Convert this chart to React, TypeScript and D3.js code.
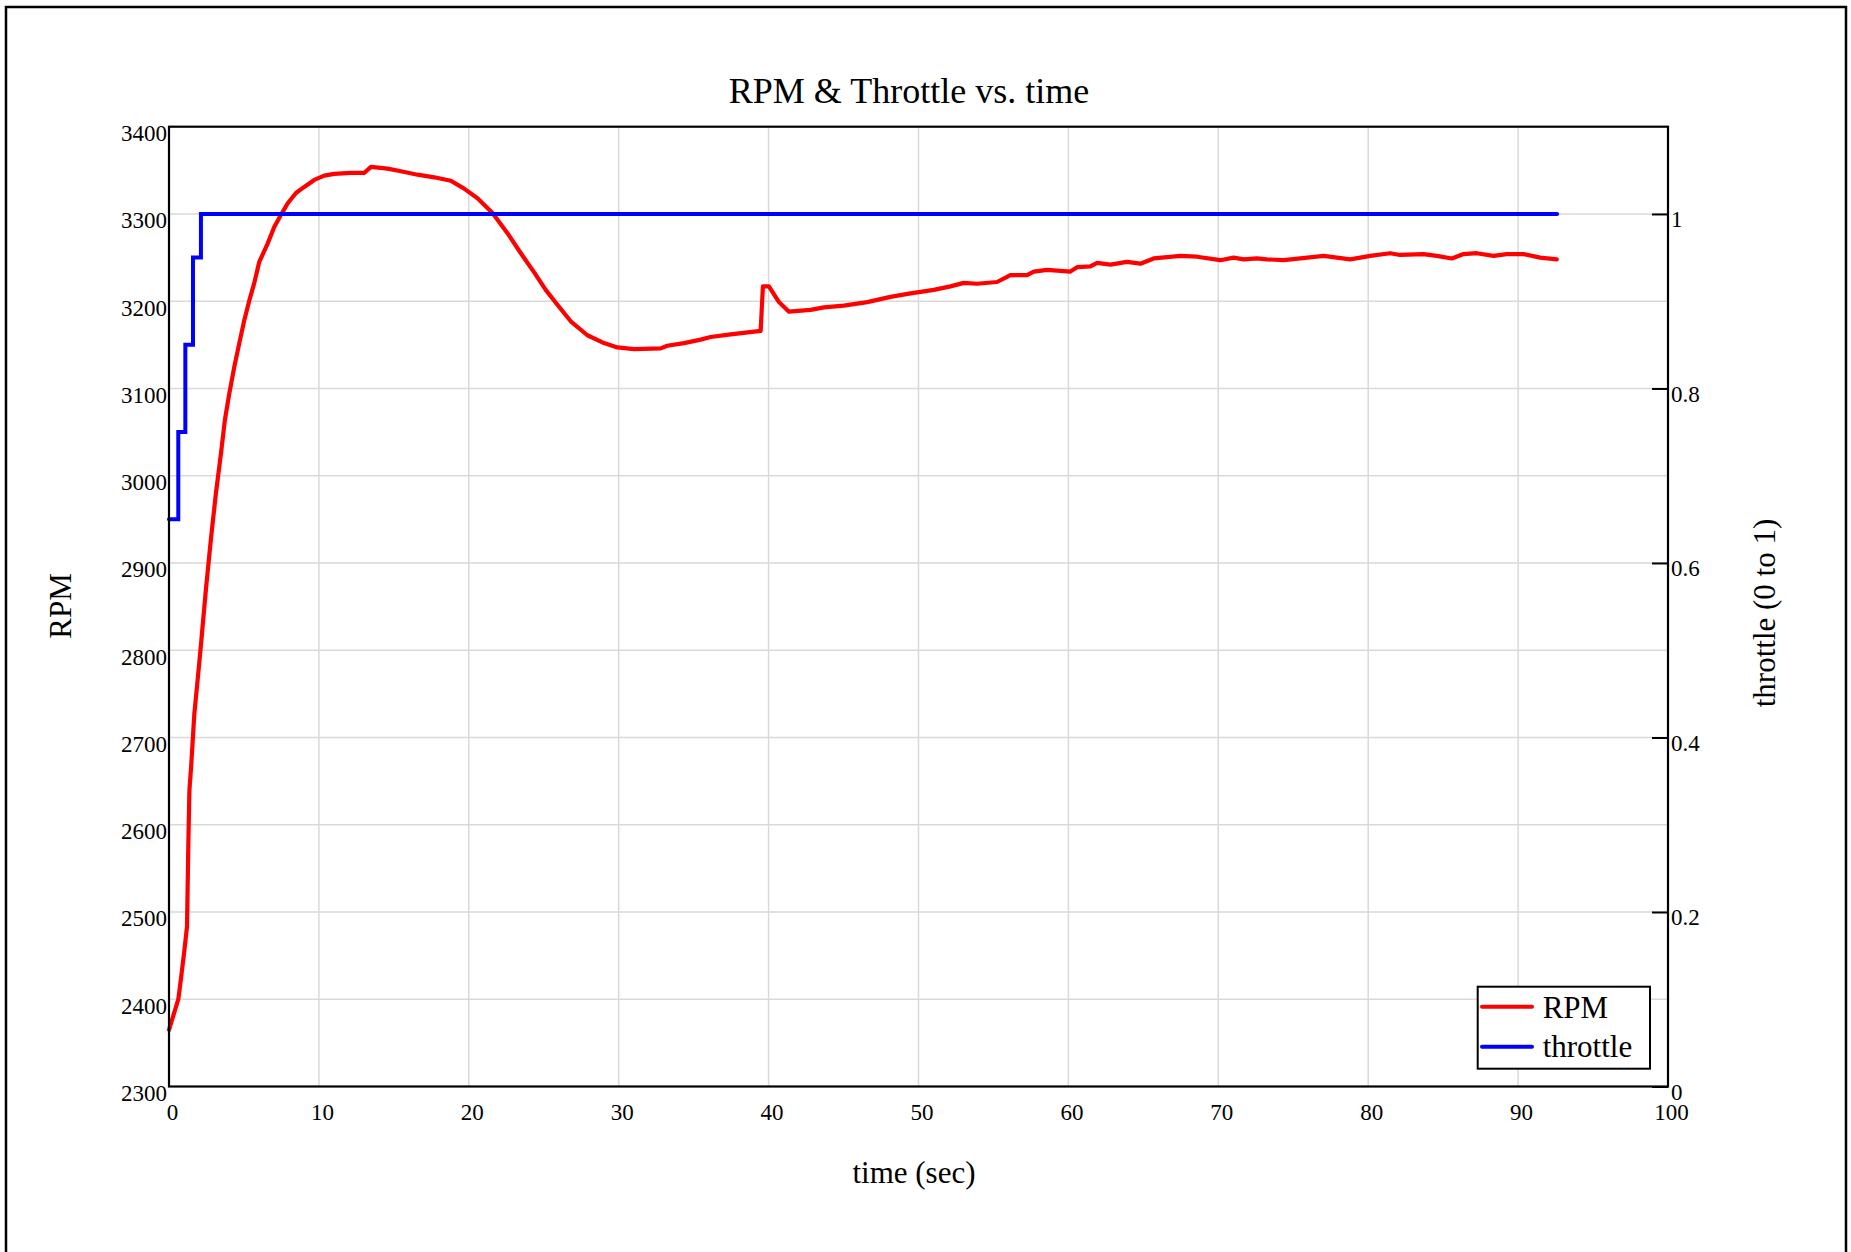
import React, { useRef, useEffect } from 'react';
import * as d3 from 'd3';

// RPM samples (time in sec, rpm)
const rpmTime = [
  0, 0.62, 0.8, 1.02, 1.2, 1.29, 1.36, 1.47, 1.69, 1.91, 2.13, 2.47, 2.8, 3.13, 3.47, 3.73,
  4.02, 4.36, 4.69, 5.02, 5.36, 5.69, 6.02, 6.58, 7.02, 7.47, 7.91, 8.47, 9.02, 9.69, 10.36,
  11.02, 12.13, 13.02, 13.47, 14.58, 15.47, 16.58, 17.69, 18.8, 19.69, 20.58, 21.58, 22.58,
  23.47, 24.36, 25.13, 25.91, 26.8, 27.91, 29.02, 29.91, 31.02, 32.8, 33.24, 34.36, 35.47,
  36.13, 37.47, 39.47, 39.62, 40.02, 40.69, 41.36, 42.8, 43.69, 45.02, 46.58, 48.13, 49.47,
  51.02, 52.13, 53.02, 53.91, 55.24, 56.13, 57.24, 57.69, 58.58, 60.13, 60.58, 61.47, 61.91,
  62.8, 63.91, 64.8, 65.69, 67.47, 68.58, 70.13, 71.02, 71.69, 72.58, 73.24, 74.36, 75.47,
  77.02, 77.91, 78.8, 80.13, 81.47, 82.13, 83.69, 84.58, 85.58, 86.36, 87.24, 88.36, 89.24,
  90.36, 91.47, 92.58,
];
const rpmValue = [
  2365, 2400, 2424, 2455, 2483, 2577, 2639, 2665, 2727, 2766, 2806, 2871, 2928, 2980, 3026, 3064,
  3094, 3125, 3152, 3178, 3201, 3221, 3245, 3266, 3285, 3299, 3312, 3324, 3331, 3339, 3344,
  3346, 3347, 3347, 3354, 3352, 3349, 3345, 3342, 3338, 3329, 3318, 3301, 3278,
  3255, 3233, 3213, 3196, 3177, 3161, 3152, 3147, 3145, 3146, 3149, 3152, 3156,
  3159, 3162, 3166, 3217, 3217, 3199, 3188, 3190, 3193, 3195, 3199, 3205, 3209,
  3213, 3217, 3221, 3220, 3222, 3230, 3230, 3234, 3236, 3234, 3239, 3240, 3244,
  3242, 3245, 3243, 3249, 3252, 3251, 3247, 3250, 3248, 3249, 3248, 3247, 3249,
  3252, 3250, 3248, 3252, 3255, 3253, 3254, 3252, 3249, 3254, 3255, 3252, 3254,
  3254, 3250, 3248,
];

// throttle steps (time in sec, 0..1)
const throttleTime = [0, 0.62, 1.09, 1.6, 2.13, 92.6];
const throttleValue = [0.65, 0.75, 0.85, 0.95, 1.0, 1.0];

const xTicks = [0, 10, 20, 30, 40, 50, 60, 70, 80, 90, 100];
const yTicks = [2300, 2400, 2500, 2600, 2700, 2800, 2900, 3000, 3100, 3200, 3300, 3400];
const y2Ticks = [0, 0.2, 0.4, 0.6, 0.8, 1];

const FONT = '"Liberation Serif", "Times New Roman", serif';

export default function App() {
  const svgRef = useRef<SVGSVGElement>(null);

  useEffect(() => {
    if (!svgRef.current) return;
    const svg = d3.select(svgRef.current);
    svg.selectAll('*').remove();

    const W = 1851;
    const H = 1252;
    const left = 169, right = 1668, top = 126.7, bottom = 1086.5;

    const x = d3.scaleLinear().domain([0, 100]).range([left, right]);
    const y = d3.scaleLinear().domain([2300, 3400]).range([bottom, top]);
    const y2 = d3.scaleLinear().domain([0, 1.1]).range([bottom, top]);

    svg.attr('width', W).attr('height', H).style('font-family', FONT);

    svg.append('rect').attr('width', W).attr('height', H).attr('fill', 'white');

    // outer frame
    svg.append('rect')
      .attr('x', 6).attr('y', 7).attr('width', 1840).attr('height', 1270)
      .attr('fill', 'none').attr('stroke', 'black').attr('stroke-width', 2.5);

    // grid
    const grid = svg.append('g').attr('stroke', '#d9d9d9').attr('stroke-width', 1.5);
    grid.selectAll('.vx')
      .data(xTicks.filter(d => d > 0 && d < 100))
      .enter().append('line')
      .attr('x1', d => x(d)).attr('x2', d => x(d))
      .attr('y1', top).attr('y2', bottom);
    grid.selectAll('.hy')
      .data(yTicks.filter(d => d > 2300 && d < 3400))
      .enter().append('line')
      .attr('x1', left).attr('x2', right)
      .attr('y1', d => y(d)).attr('y2', d => y(d));

    // left axis
    const gl = svg.append('g')
      .attr('transform', `translate(${left},0)`)
      .call(d3.axisLeft(y).tickValues(yTicks).tickSize(0).tickPadding(2).tickFormat(d3.format('d')));
    gl.select('.domain').remove();
    gl.selectAll('text').attr('dy', 14).style('font-size', '23px').style('font-family', FONT).attr('fill', 'black');

    // bottom axis
    const gb = svg.append('g')
      .attr('transform', `translate(0,${bottom})`)
      .call(d3.axisBottom(x).tickValues(xTicks).tickSize(0).tickFormat(d3.format('d')));
    gb.select('.domain').remove();
    gb.selectAll('text').attr('y', 33).attr('dy', 0).attr('dx', 3)
      .style('font-size', '23px').style('font-family', FONT).attr('fill', 'black');

    // right axis
    const gr = svg.append('g')
      .attr('transform', `translate(${right},0)`)
      .call(d3.axisRight(y2).tickValues(y2Ticks).tickSize(-16).tickPadding(3).tickFormat(d3.format('~g')));
    gr.select('.domain').remove();
    gr.selectAll('.tick line').attr('stroke', 'black').attr('stroke-width', 2);
    gr.selectAll('text').attr('dy', 13).style('font-size', '23px').style('font-family', FONT).attr('fill', 'black');

    // series
    const rpmData = rpmTime.map((t, i) => [t, rpmValue[i]] as [number, number]);
    const thrData = throttleTime.map((t, i) => [t, throttleValue[i]] as [number, number]);

    svg.append('path')
      .datum(rpmData)
      .attr('fill', 'none').attr('stroke', '#ff0000').attr('stroke-width', 4.2)
      .attr('stroke-linejoin', 'round').attr('stroke-linecap', 'round')
      .attr('d', d3.line<[number, number]>().x(d => x(d[0])).y(d => y(d[1])));

    svg.append('path')
      .datum(thrData)
      .attr('fill', 'none').attr('stroke', '#0000ff').attr('stroke-width', 4)
      .attr('stroke-linejoin', 'miter').attr('stroke-linecap', 'round')
      .attr('d', d3.line<[number, number]>().x(d => x(d[0])).y(d => y2(d[1])).curve(d3.curveStepAfter));

    // plot frame
    svg.append('rect')
      .attr('x', left).attr('y', top).attr('width', right - left).attr('height', bottom - top)
      .attr('fill', 'none').attr('stroke', 'black').attr('stroke-width', 2.2);

    // titles
    svg.append('text').attr('x', 909).attr('y', 103.3).attr('text-anchor', 'middle')
      .style('font-size', '36px').text('RPM & Throttle vs. time');
    svg.append('text').attr('x', 914).attr('y', 1182.7).attr('text-anchor', 'middle')
      .style('font-size', '31px').text('time (sec)');
    svg.append('text').attr('transform', 'translate(71,606) rotate(-90)').attr('text-anchor', 'middle')
      .style('font-size', '31px').text('RPM');
    svg.append('text').attr('transform', 'translate(1775,613) rotate(-90)').attr('text-anchor', 'middle')
      .style('font-size', '31px').text('throttle (0 to 1)');

    // legend
    const lg = svg.append('g');
    lg.append('rect').attr('x', 1477.7).attr('y', 986.7).attr('width', 172.3).attr('height', 82)
      .attr('fill', 'white').attr('stroke', 'black').attr('stroke-width', 2);
    const items = [
      { label: 'RPM', color: '#ff0000', ly: 1006.7, ty: 1017.7 },
      { label: 'throttle', color: '#0000ff', ly: 1046.7, ty: 1057.3 },
    ];
    items.forEach(it => {
      lg.append('line').attr('x1', 1482).attr('x2', 1532).attr('y1', it.ly).attr('y2', it.ly)
        .attr('stroke', it.color).attr('stroke-width', 4).attr('stroke-linecap', 'round');
      lg.append('text').attr('x', 1542.7).attr('y', it.ty).style('font-size', '31px').text(it.label);
    });
  }, []);

  return (
    <div style={{ position: 'absolute', left: 0, top: 0 }}>
      <svg ref={svgRef} style={{ display: 'block' }}></svg>
    </div>
  );
}
